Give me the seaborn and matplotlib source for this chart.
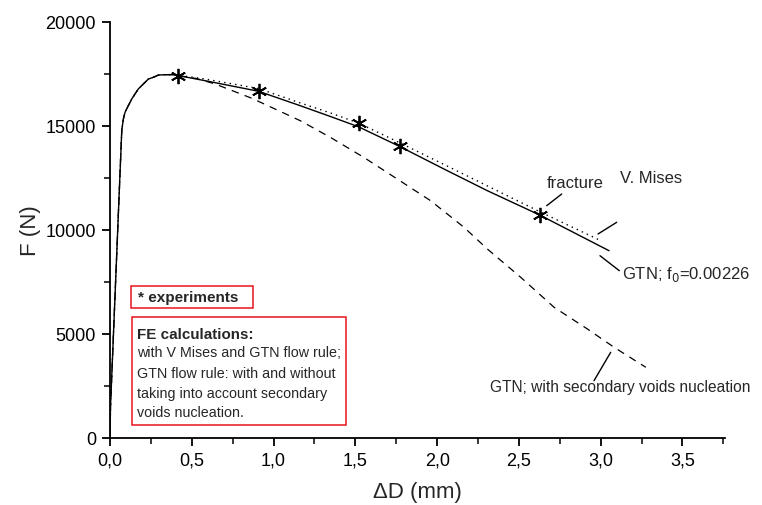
import numpy as np
import pandas as pd
import matplotlib
matplotlib.use("Agg")
import matplotlib.pyplot as plt
from matplotlib.ticker import MultipleLocator, FuncFormatter
from matplotlib.patches import Rectangle
import seaborn as sns

# data
rise_x = [0.0, 0.003, 0.072, 0.082, 0.092, 0.112, 0.133, 0.173, 0.204, 0.235, 0.265, 0.296, 0.337, 0.378, 0.42]
rise_y = [0, 1500, 14800, 15340, 15660, 15980, 16300, 16780, 17020, 17260, 17340, 17450, 17466, 17470, 17420]

gtn_x = rise_x + [0.58, 0.908, 1.163, 1.35, 1.52, 1.77, 2.05, 2.307, 2.627, 3.051]
gtn_y = rise_y + [17180, 16670, 15976, 15450, 14960, 14020, 12900, 11890, 10720, 9005]

mises_x = rise_x + [0.58, 0.908, 1.163, 1.35, 1.52, 1.77, 2.05, 2.307, 2.627, 3.0]
mises_y = rise_y[:-1] + [17440, 17260, 16800, 16110, 15620, 15140, 14200, 13120, 12120, 10880, 9490]

voids_x = rise_x + [0.53, 0.643, 0.868, 1.163, 1.347, 1.551, 1.756, 1.96, 2.164, 2.307, 2.511, 2.715, 2.919, 3.082, 3.276]
voids_y = rise_y + [17280, 17019, 16330, 15256, 14456, 13495, 12452, 11409, 10130, 9087, 7726, 6284, 5240, 4360, 3399]

exp_x = [0.418, 0.908, 1.521, 1.770, 2.627]
exp_y = [17420, 16670, 15140, 14020, 10720]

sns.set_style("ticks")
plt.rcParams['font.family'] = ['Liberation Sans', 'DejaVu Sans']

fig = plt.figure(figsize=(7.62, 5.06), dpi=100)
ax = fig.add_axes([110 / 762, 1 - 439 / 506, 615 / 762, 416 / 506])

sns.lineplot(x=mises_x, y=mises_y, ax=ax, color="black", lw=1.0, linestyle=(0, (1, 3)), sort=False)
sns.lineplot(x=voids_x, y=voids_y, ax=ax, color="black", lw=0.9, linestyle=(0, (6, 5)), sort=False)
sns.lineplot(x=gtn_x, y=gtn_y, ax=ax, color="black", lw=1.0, sort=False)
ax.plot(exp_x, exp_y, linestyle="none", marker=(6, 2, 0), markersize=11,
        markeredgewidth=1.3, color="black")

ax.set_xlim(0, 3.76)
ax.set_ylim(0, 20000)
ax.xaxis.set_major_locator(MultipleLocator(0.5))
ax.xaxis.set_minor_locator(MultipleLocator(0.25))
ax.yaxis.set_major_locator(MultipleLocator(5000))
ax.yaxis.set_minor_locator(MultipleLocator(2500))
ax.xaxis.set_major_formatter(FuncFormatter(lambda v, p: f"{v:.1f}".replace(".", ",")))
ax.tick_params(which="major", length=6, width=1.3, labelsize=13, direction="out", colors="black", pad=4)
ax.tick_params(which="minor", length=4, width=1.3, direction="out")
for s in ["left", "bottom"]:
    ax.spines[s].set_linewidth(1.3)
    ax.spines[s].set_color("black")
sns.despine(ax=ax)

ax.set_xlabel("ΔD (mm)", fontsize=16, labelpad=9)
ax.set_ylabel("F (N)", fontsize=16, labelpad=3)

def fx(px):
    return px / 762

def fy(py):
    return 1 - py / 506

# curve annotations
ax.text(fx(575), fy(184), "fracture", transform=fig.transFigure, fontsize=12, ha="center", va="center")
ax.plot([fx(546.7), fx(561.7)], [fy(206.7), fy(195)], transform=fig.transFigure, color="black", lw=1)
ax.text(fx(620), fy(179), "V. Mises", transform=fig.transFigure, fontsize=12, ha="left", va="center")
ax.plot([fx(598), fx(616.7)], [fy(235), fy(223.3)], transform=fig.transFigure, color="black", lw=1)
ax.text(fx(622), fy(275), "GTN; f$_0$=0.00226", transform=fig.transFigure, fontsize=12, ha="left", va="center")
ax.plot([fx(600), fx(619.3)], [fy(256.7), fy(271.7)], transform=fig.transFigure, color="black", lw=1)
ax.text(fx(490), fy(388), "GTN; with secondary voids nucleation", transform=fig.transFigure,
        fontsize=11.2, ha="left", va="center")
ax.plot([fx(594), fx(610.7)], [fy(381.7), fy(353.3)], transform=fig.transFigure, color="black", lw=1)

# boxes
red = "#e8141c"
fig.patches.append(Rectangle((fx(131), fy(309.3)), fx(253.3) - fx(131), fy(286.7) - fy(309.3),
                             transform=fig.transFigure, fill=False, edgecolor=red, lw=1.1))
fig.text(fx(138), fy(298), "* experiments", fontsize=11, fontweight="bold", va="center")

fig.patches.append(Rectangle((fx(131.7), fy(426)), fx(346) - fx(131.7), fy(318.3) - fy(426),
                             transform=fig.transFigure, fill=False, edgecolor=red, lw=1.1))
fig.text(fx(137.3), fy(335), "FE calculations:", fontsize=10.9, fontweight="bold", va="center")
fe_lines = ["with V Mises and GTN flow rule;",
            "GTN flow rule: with and without",
            "taking into account secondary",
            "voids nucleation."]
for line, py in zip(fe_lines, [353.3, 374, 394, 413.3]):
    fig.text(fx(137.3), fy(py), line, fontsize=10.3, va="center")

fig.savefig("out.png", dpi=100)
